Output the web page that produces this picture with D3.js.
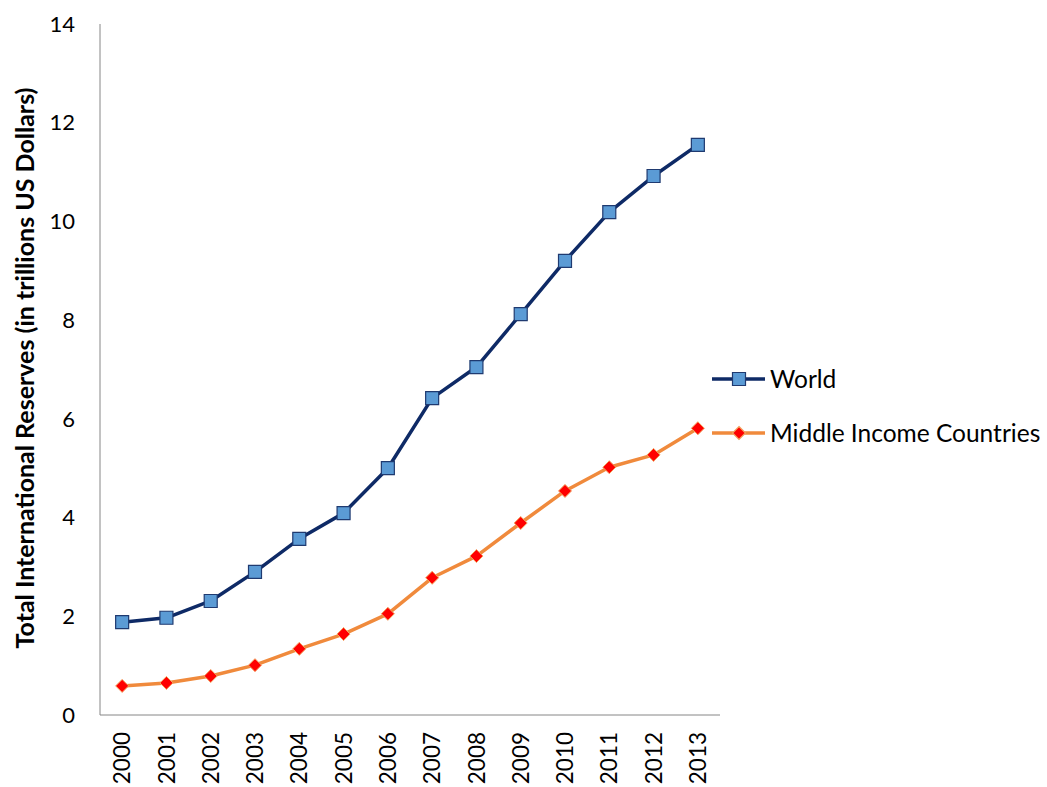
<!DOCTYPE html>
<html><head><meta charset="utf-8">
<script src="https://cdn.jsdelivr.net/npm/d3@7"></script>
<style>body{margin:0;background:#fff}svg{display:block}text{font-family:Lato,"Open Sans",sans-serif}</style>
</head><body><svg id="c" width="1047" height="787"></svg>
<script>
const years = ["2000","2001","2002","2003","2004","2005","2006","2007","2008","2009","2010","2011","2012","2013"];
const world = [1.88,1.97,2.31,2.90,3.57,4.09,5.00,6.42,7.05,8.12,9.20,10.19,10.92,11.55];
const middleIncome = [0.59,0.65,0.79,1.01,1.34,1.64,2.05,2.78,3.22,3.89,4.54,5.02,5.27,5.81];
const yTicks = [0,2,4,6,8,10,12,14];
const seriesNames = ["World","Middle Income Countries"];

const svg = d3.select("#c");
const L=100, R=720, T=24, B=715;
const x = d3.scaleBand().domain(years).range([L,R]);
const y = d3.scaleLinear().domain([0,14]).range([B,T]);

svg.append("line").attr("x1",L).attr("x2",L).attr("y1",T).attr("y2",B).attr("stroke","#868686").attr("stroke-width",1);
svg.append("line").attr("x1",L).attr("x2",R).attr("y1",B).attr("y2",B).attr("stroke","#868686").attr("stroke-width",1);

svg.selectAll(".yt").data(yTicks).join("text")
  .attr("x",75).attr("y",d=>y(d)).attr("dy","0.35em").attr("text-anchor","end")
  .attr("font-size",22).attr("fill","#000").text(d=>d);

svg.selectAll(".xt").data(years).join("text")
  .attr("transform",d=>`translate(${x(d)+x.bandwidth()/2},${B+17}) rotate(-90)`)
  .attr("text-anchor","end").attr("dy","0.36em").attr("font-size",22.5).attr("fill","#000").text(d=>d);

svg.append("text").attr("transform",`translate(25,368) rotate(-90)`).attr("text-anchor","middle")
  .attr("dy","0.35em").attr("font-size",25).attr("font-weight","bold").attr("fill","#000")
  .text("Total International Reserves (in trillions US Dollars)");

const cx = d=>x(d)+x.bandwidth()/2;
const line = d3.line().x((d,i)=>cx(years[i])).y(d=>y(d));

svg.append("path").datum(world).attr("d",line).attr("fill","none").attr("stroke","#0E2A66").attr("stroke-width",3.5).attr("stroke-linejoin","round");
svg.append("path").datum(middleIncome).attr("d",line).attr("fill","none").attr("stroke","#F08A3C").attr("stroke-width",3.5).attr("stroke-linejoin","round");

const sq = d3.symbol().type(d3.symbolSquare).size(169);
const dm = "M0,-6.5L6.5,0L0,6.5L-6.5,0Z";

svg.selectAll(".wm").data(world).join("path")
  .attr("transform",(d,i)=>`translate(${cx(years[i])},${y(d)})`).attr("d",sq)
  .attr("fill","#5B9BD5").attr("stroke","#1F3A70").attr("stroke-width",1.2);
svg.selectAll(".mm").data(middleIncome).join("path")
  .attr("transform",(d,i)=>`translate(${cx(years[i])},${y(d)})`).attr("d",dm)
  .attr("fill","#FF0000").attr("stroke","#F4A460").attr("stroke-width",1);

const lg = [{y:379,c:"#0E2A66",sym:sq(),f:"#5B9BD5",s:"#1F3A70"},{y:433,c:"#F08A3C",sym:dm,f:"#FF0000",s:"#F4A460"}];
lg.forEach((g,i)=>{
  svg.append("line").attr("x1",712).attr("x2",765).attr("y1",g.y).attr("y2",g.y).attr("stroke",g.c).attr("stroke-width",3.5);
  svg.append("path").attr("transform",`translate(739,${g.y})`).attr("d",g.sym).attr("fill",g.f).attr("stroke",g.s).attr("stroke-width",1.2);
  svg.append("text").attr("x",770).attr("y",g.y).attr("dy","0.35em").attr("font-size",24.5).attr("fill","#000").text(seriesNames[i]);
});
</script></body></html>
